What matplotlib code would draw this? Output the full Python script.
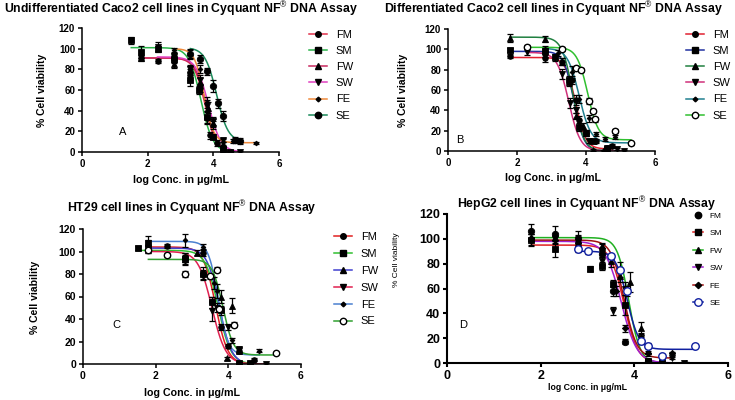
import numpy as np
import matplotlib
matplotlib.use('Agg')
import matplotlib.pyplot as plt
from matplotlib.lines import Line2D

plt.rcParams['font.family'] = ['Liberation Sans', 'DejaVu Sans']
plt.rcParams['mathtext.fontset'] = 'custom'
plt.rcParams['mathtext.rm'] = 'Liberation Sans'
plt.rcParams['mathtext.bf'] = 'Liberation Sans:bold'

labels = ['FM', 'SM', 'FW', 'SW', 'FE', 'SE']

# ---------------- Panel A: Undifferentiated Caco2 ----------------
a_fm_x = [1.8, 2.3, 2.8, 3.3, 3.6, 3.8, 3.9, 4.1, 4.3]
a_fm_y = [91, 88, 91, 75, 62, 33, 16, 9, 2]
a_fm_e = [3, 2, 4, 5, 4, 6, 3, 3, 2]
a_fm_fit = [91, 0, 3.75, 2.6]
a_sm_x = [1.5, 1.8, 2.3, 2.8, 3.3, 3.55, 3.8, 4.0, 4.3, 4.5]
a_sm_y = [108, 97, 100, 90, 70, 60, 34, 15, 3, 0]
a_sm_e = [3, 6, 3, 4, 6, 4, 6, 2, 2, 1]
a_sm_fit = [101, 0, 3.62, 2.4]
a_fw_x = [1.8, 2.8, 3.3, 3.6, 3.85, 4.0, 4.3, 4.55]
a_fw_y = [91, 85, 80, 68, 43, 28, 8, 0]
a_fw_e = [2, 4, 3, 4, 5, 4, 2, 1]
a_fw_fit = [91, 0, 3.78, 2.6]
a_sw_x = [2.3, 2.8, 3.3, 3.6, 3.8, 4.0, 4.3, 4.8]
a_sw_y = [102, 93, 80, 70, 45, 30, 12, 0]
a_sw_e = [4, 3, 4, 5, 5, 4, 2, 1]
a_sw_fit = [92, 0, 3.85, 2.3]
a_fe_x = [2.8, 3.3, 3.6, 3.8, 4.0, 4.3, 4.6, 5.3]
a_fe_y = [99, 95, 80, 48, 26, 10, 11, 9]
a_fe_e = [2, 5, 4, 5, 4, 3, 2, 1]
a_fe_fit = [100, 9, 3.72, 3.0]
a_se_x = [3.3, 3.6, 3.8, 4.0, 4.15, 4.3, 4.65, 4.8]
a_se_y = [95, 90, 78, 64, 47, 35, 12, 11]
a_se_e = [4, 4, 3, 6, 4, 5, 3, 3]
a_se_fit = [101, 10, 4.1, 2.5]

# ---------------- Panel B: Differentiated Caco2 ----------------
b_fm_x = [1.8, 2.8, 3.3, 3.6, 3.7, 3.8, 4.0, 4.3, 4.6, 4.75]
b_fm_y = [93, 91, 88, 70, 50, 30, 18, 10, 3, 5]
b_fm_e = [2, 3, 3, 4, 5, 4, 3, 2, 2, 2]
b_fm_fit = [92, 2, 3.7, 3.0]
b_sm_x = [1.8, 2.8, 3.1, 3.5, 3.8, 4.0, 4.2, 4.6]
b_sm_y = [99, 98, 92, 70, 24, 18, 10, 2]
b_sm_e = [2, 3, 3, 4, 4, 3, 2, 1]
b_sm_fit = [98, 0, 3.65, 3.0]
b_fw_x = [1.8, 2.8, 3.3, 3.5, 3.7, 3.9, 4.2, 4.5]
b_fw_y = [111, 110, 88, 68, 34, 25, 1, 0]
b_fw_e = [4, 3, 3, 4, 3, 3, 1, 1]
b_fw_fit = [112, 0, 3.62, 2.8]
b_sw_x = [2.3, 2.8, 3.3, 3.55, 3.7, 4.1, 4.6, 4.9, 5.1]
b_sw_y = [97, 95, 76, 47, 40, 10, 3, 2, 0]
b_sw_e = [3, 3, 5, 5, 3, 2, 1, 1, 1]
b_sw_fit = [97, 0, 3.5, 2.6]
b_fe_x = [2.8, 3.2, 3.6, 3.8, 4.1, 4.3, 4.55, 4.85, 5.3]
b_fe_y = [100, 96, 78, 51, 32, 17, 12, 14, 7]
b_fe_e = [3, 3, 6, 4, 3, 2, 2, 2, 1]
b_fe_fit = [101, 8, 3.8, 2.6]
b_se_x = [2.3, 3.3, 3.7, 3.85, 4.1, 4.2, 4.25, 4.85, 5.3]
b_se_y = [102, 100, 82, 80, 49, 39, 31, 20, 8]
b_se_e = [2, 2, 2, 2, 3, 2, 2, 2, 1]
b_se_fit = [102, 11, 4.05, 2.8]

# ---------------- Panel C: HT29 ----------------
c_fm_x = [1.8, 2.3, 2.8, 3.3, 3.55, 3.8, 4.0, 4.3, 4.7]
c_fm_y = [103, 105, 95, 99, 55, 33, 16, 12, 4]
c_fm_e = [3, 2, 4, 3, 5, 3, 2, 2, 1]
c_fm_fit = [104, 0, 3.65, 2.6]
c_sm_x = [1.5, 1.8, 2.8, 3.3, 3.55, 3.8, 4.3, 4.6]
c_sm_y = [103, 108, 93, 80, 55, 48, 1, 1]
c_sm_e = [2, 6, 4, 4, 5, 4, 1, 1]
c_sm_fit = [101, 0, 3.72, 2.5]
c_fw_x = [1.8, 2.8, 3.15, 3.3, 3.8, 3.95, 4.1, 4.3]
c_fw_y = [103, 95, 99, 82, 60, 5, 52, 12]
c_fw_e = [3, 4, 2, 4, 6, 1, 7, 2]
c_fw_fit = [103, 0, 3.75, 2.6]
c_sw_x = [1.8, 2.8, 3.3, 3.55, 3.7, 4.0, 4.3, 5.05]
c_sw_y = [102, 92, 78, 47, 50, 33, 13, 0]
c_sw_e = [3, 4, 3, 9, 4, 3, 2, 1]
c_sw_fit = [100, 0, 3.55, 2.3]
c_fe_x = [1.8, 2.8, 3.3, 3.6, 3.7, 4.1, 4.3, 4.85]
c_fe_y = [107, 110, 104, 72, 65, 21, 13, 12]
c_fe_e = [3, 6, 3, 5, 6, 2, 2, 1]
c_fe_fit = [109, 8, 3.72, 3.2]
c_se_x = [1.8, 2.3, 2.8, 3.5, 3.7, 3.75, 4.15, 5.3]
c_se_y = [101, 97, 80, 78, 84, 49, 35, 10]
c_se_e = [2, 2, 3, 2, 2, 2, 2, 1]
c_se_fit = [93, 8, 3.85, 3.0]

# ---------------- Panel D: HepG2 ----------------
d_fm_x = [1.8, 2.3, 2.8, 3.3, 3.55, 3.8, 4.3]
d_fm_y = [106, 104, 101, 88, 58, 17, 2]
d_fm_e = [6, 6, 5, 3, 4, 2, 1]
d_sm_x = [1.8, 2.3, 3.05, 3.3, 3.55, 3.8, 4.3, 4.6]
d_sm_y = [99, 92, 76, 78, 64, 47, 2, 1]
d_sm_e = [5, 7, 2, 3, 3, 8, 1, 1]
d_sm_fit = [95, 0, 3.78, 3.0]
d_fw_x = [1.8, 2.8, 3.3, 3.5, 3.7, 3.9, 4.15, 4.3, 5.1]
d_fw_y = [101, 100, 94, 82, 70, 65, 28, 10, 0]
d_fw_e = [3, 3, 3, 5, 5, 8, 5, 3, 1]
d_fw_fit = [101, 0, 3.88, 3.6]
d_sw_x = [1.8, 2.3, 2.8, 3.3, 3.55, 3.8, 4.15, 4.8, 5.05]
d_sw_y = [98, 100, 92, 82, 42, 60, 20, 4, 0]
d_sw_e = [3, 3, 3, 3, 3, 5, 4, 1, 1]
d_sw_fit = [98, 0, 3.72, 2.6]
d_fe_x = [1.8, 2.3, 2.8, 3.3, 3.6, 3.8, 4.3, 4.8]
d_fe_y = [101, 99, 97, 93, 58, 28, 8, 8]
d_fe_e = [3, 3, 3, 3, 4, 3, 2, 1]
d_fe_fit = [99, 4, 3.78, 3.2]
d_se_x = [2.8, 3.0, 3.5, 3.7, 3.85, 4.15, 4.3, 4.6, 5.3]
d_se_y = [92, 90, 86, 75, 58, 18, 14, 6, 14]
d_se_e = [2, 2, 2, 6, 4, 3, 2, 1, 1]
d_se_fit = [90, 11, 3.85, 3.5]

W, H = 735, 400
fig = plt.figure(figsize=(W / 100, H / 100), dpi=100)


def px_axes(l, r, b, t):
    return fig.add_axes([l / W, 1 - b / H, (r - l) / W, (b - t) / H])


def curve(fit, x):
    top, bot, ec, h = fit
    return bot + (top - bot) / (1 + 10 ** ((x - ec) * h))


def style_axes(ax, tfs, lw=1.1):
    ax.set_xlim(0, 6)
    ax.set_ylim(0, 120)
    ax.set_xticks([0, 2, 4, 6])
    ax.set_yticks(range(0, 121, 20))
    for s in ['top', 'right']:
        ax.spines[s].set_visible(False)
    for s in ['left', 'bottom']:
        ax.spines[s].set_linewidth(lw)
    ax.tick_params(direction='out', length=3, width=lw, labelsize=tfs, pad=2)
    for lab in ax.get_xticklabels() + ax.get_yticklabels():
        lab.set_fontweight('bold')
    ax.patch.set_alpha(0)


markers = ['o', 's', '^', 'v', 'D', 'o']
msizes = [4.0, 4.0, 4.0, 4.0, 2.4, 4.6]


def draw_series(ax, xs, ys, es, fit, color, mk, ms, open_face=False, mcol='black'):
    xs = np.array(xs)
    if fit is not None:
        xx = np.linspace(xs.min(), xs.max(), 200)
        ax.plot(xx, curve(fit, xx), color=color, lw=1.1, zorder=2)
    ax.errorbar(xs, ys, yerr=es, fmt='none', ecolor='black', elinewidth=0.9,
                capsize=2, capthick=0.9, zorder=3)
    ax.plot(xs, ys, linestyle='none', marker=mk, markersize=ms,
            markerfacecolor='white' if open_face else mcol,
            markeredgecolor=mcol, markeredgewidth=1.0 if open_face else 0.6, zorder=4)


def make_legend(ax, cols, open_last, x0, y0, fs, hl, ls, line_on=None, mcols=None, msz=None):
    handles = []
    for i in range(6):
        mc = 'black' if mcols is None else mcols[i]
        on = True if line_on is None else line_on[i]
        handles.append(Line2D([], [], color=cols[i] if on else 'none', lw=1.1,
                              marker=markers[i], markersize=(msizes if msz is None else msz)[i],
                              markerfacecolor='white' if (open_last and i == 5) else mc,
                              markeredgecolor=mc))
    ax.legend(handles, labels, loc='upper left', bbox_to_anchor=(x0 / W, 1 - y0 / H),
              bbox_transform=fig.transFigure, frameon=False, fontsize=fs,
              handlelength=hl, handletextpad=0.8, labelspacing=ls, borderpad=0,
              borderaxespad=0)


def title(txt, xc, yc, fs):
    fig.text(xc / W, 1 - yc / H, txt, ha='center', va='center', fontsize=fs, fontweight='bold')


# ---- A ----
axA = px_axes(82, 279, 152, 28)
colA = ['#e0304a', '#2bb34a', '#c8285e', '#e040c0', '#f08a3c', '#1a8a5a']
dA = [(a_fm_x, a_fm_y, a_fm_e, a_fm_fit), (a_sm_x, a_sm_y, a_sm_e, a_sm_fit),
      (a_fw_x, a_fw_y, a_fw_e, a_fw_fit), (a_sw_x, a_sw_y, a_sw_e, a_sw_fit),
      (a_fe_x, a_fe_y, a_fe_e, a_fe_fit), (a_se_x, a_se_y, a_se_e, a_se_fit)]
for i, (x, y, e, f) in enumerate(dA):
    draw_series(axA, x, y, e, f, colA[i], markers[i], msizes[i])
style_axes(axA, 7)
axA.text(1.25, 19, 'A', fontsize=8, ha='center', va='center')
make_legend(axA, colA, False, 309, 30, 8, 1.6, 0.55)
title('Undifferentiated Caco2 cell lines in Cyquant NF$^{®}$ DNA Assay', 181, 9, 8.8)
fig.text(42 / W, 1 - 90 / H, '% Cell viability', rotation=90, ha='center', va='center',
         fontsize=7.5, fontweight='bold')
fig.text(181 / W, 1 - 180 / H, 'log Conc. in μg/mL', ha='center', va='center',
         fontsize=7.7, fontweight='bold')

# ---- B ----
axB = px_axes(448, 655, 151, 29)
colB = ['#e02030', '#2030a0', '#208040', '#d0307a', '#208090', '#30c030']
dB = [(b_fm_x, b_fm_y, b_fm_e, b_fm_fit), (b_sm_x, b_sm_y, b_sm_e, b_sm_fit),
      (b_fw_x, b_fw_y, b_fw_e, b_fw_fit), (b_sw_x, b_sw_y, b_sw_e, b_sw_fit),
      (b_fe_x, b_fe_y, b_fe_e, b_fe_fit), (b_se_x, b_se_y, b_se_e, b_se_fit)]
for i, (x, y, e, f) in enumerate(dB):
    draw_series(axB, x, y, e, f, colB[i], markers[i], msizes[i], open_face=(i == 5))
style_axes(axB, 7)
axB.text(0.35, 11, 'B', fontsize=8, ha='center', va='center')
make_legend(axB, colB, True, 686, 30, 8, 1.6, 0.55)
title('Differentiated Caco2 cell lines in Cyquant NF$^{®}$ DNA Assay', 553, 9, 8.8)
fig.text(403 / W, 1 - 90 / H, '% Cell viability', rotation=90, ha='center', va='center',
         fontsize=7.5, fontweight='bold')
fig.text(553 / W, 1 - 178 / H, 'log Conc. in μg/mL', ha='center', va='center',
         fontsize=7.7, fontweight='bold')

# ---- C ----
axC = px_axes(83, 301, 364, 229)
colC = ['#e02020', '#30c030', '#4040d0', '#e02050', '#4a80d0', '#30a030']
dC = [(c_fm_x, c_fm_y, c_fm_e, c_fm_fit), (c_sm_x, c_sm_y, c_sm_e, c_sm_fit),
      (c_fw_x, c_fw_y, c_fw_e, c_fw_fit), (c_sw_x, c_sw_y, c_sw_e, c_sw_fit),
      (c_fe_x, c_fe_y, c_fe_e, c_fe_fit), (c_se_x, c_se_y, c_se_e, c_se_fit)]
for i, (x, y, e, f) in enumerate(dC):
    draw_series(axC, x, y, e, f, colC[i], markers[i], msizes[i], open_face=(i == 5))
style_axes(axC, 7.5)
axC.text(0.93, 35, 'C', fontsize=8, ha='center', va='center')
make_legend(axC, colC, True, 334, 232, 8, 1.6, 0.62)
title('HT29 cell lines in Cyquant NF$^{®}$ DNA Assay', 192, 208, 8.8)
fig.text(35 / W, 1 - 297 / H, '% Cell viability', rotation=90, ha='center', va='center',
         fontsize=7.5, fontweight='bold')
fig.text(192 / W, 1 - 393 / H, 'log Conc. in μg/mL', ha='center', va='center',
         fontsize=7.7, fontweight='bold')

# ---- D ----
axD = px_axes(447, 728, 363, 214)
colD = ['black', '#e02020', '#20b020', '#a020d0', '#a01010', '#1020a0']
dD = [(d_fm_x, d_fm_y, d_fm_e, None), (d_sm_x, d_sm_y, d_sm_e, d_sm_fit),
      (d_fw_x, d_fw_y, d_fw_e, d_fw_fit), (d_sw_x, d_sw_y, d_sw_e, d_sw_fit),
      (d_fe_x, d_fe_y, d_fe_e, d_fe_fit), (d_se_x, d_se_y, d_se_e, d_se_fit)]
d_ms = [4.6, 4.6, 4.6, 4.6, 3.2, 5.4]
for i, (x, y, e, f) in enumerate(dD):
    mc = '#1020a0' if i == 5 else 'black'
    draw_series(axD, x, y, e, f, colD[i], markers[i], d_ms[i],
                open_face=(i == 5), mcol=mc)
style_axes(axD, 9, lw=1.5)
axD.text(0.34, 31, 'D', fontsize=8, ha='center', va='center')
make_legend(axD, colD, True, 693, 212, 6, 1.2, 1.15,
            line_on=[False, True, True, True, True, True],
            mcols=['black'] * 5 + ['#1020a0'], msz=d_ms)
title('HepG2 cell lines in Cyquant NF$^{®}$ DNA Assay', 587, 204, 8.8)
fig.text(396 / W, 1 - 260 / H, '% Cell viability', rotation=90, ha='center', va='center',
         fontsize=6, fontweight='normal')
fig.text(587 / W, 1 - 388 / H, 'log Conc. in μg/mL', ha='center', va='center',
         fontsize=6.3, fontweight='bold')

fig.savefig('out.png', dpi=100)
